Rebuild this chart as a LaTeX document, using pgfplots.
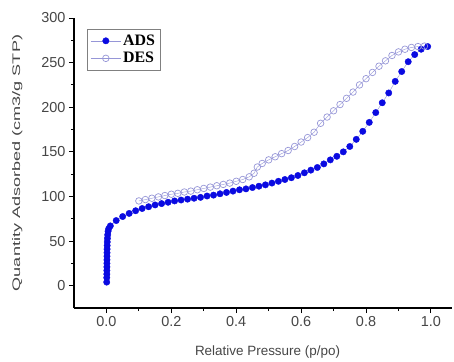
\documentclass[border=0pt]{standalone}
\usepackage{fontspec}
\setmainfont{Liberation Sans}
\newfontfamily\legfont{Liberation Serif}
\usepackage{graphicx}
\usepackage{pgfplots}
\pgfplotsset{compat=1.18}
\definecolor{adsblue}{RGB}{10,10,225}
\definecolor{deslav}{RGB}{150,150,215}
\definecolor{labgray}{RGB}{70,70,70}
\begin{document}
\begin{tikzpicture}
\begin{axis}[
  scale only axis=true,
  width=378bp, height=290bp,
  xmin=-0.1, xmax=1.065, ymin=-25, ymax=300,
  axis x line*=bottom, axis y line*=left,
  axis line style={line width=1.2pt},
  tick align=outside,
  major tick length=5bp, minor tick length=3bp,
  tick style={line width=1pt, black},
  xtick={0,0.2,0.4,0.6,0.8,1.0},
  ytick={0,50,100,150,200,250,300},
  minor x tick num=1, minor y tick num=1,
  xticklabel style={/pgf/number format/fixed, /pgf/number format/fixed zerofill, /pgf/number format/precision=1},
  /pgf/number format/assume math mode=true,
  ticklabel style={font=\fontsize{14.5}{16}\selectfont, text=labgray},
  xlabel={Relative Pressure (p/po)},
  ylabel={\scalebox{1.65}[1]{\fontsize{11}{13}\selectfont Quantity Adsorbed (cm3/g STP)}},
  label style={text=labgray},
  xlabel style={font=\fontsize{13.5}{15}\selectfont, at={(axis description cs:0.512,-0.152)}, anchor=center},
  ylabel style={at={(axis description cs:-0.15,0.5)}, anchor=center},
  legend style={at={(0.034,0.962)}, anchor=north west, draw=gray, line width=0.6pt,
    font=\legfont\bfseries\fontsize{16}{18}\selectfont, row sep=1.5pt, inner sep=3.5pt},
  legend cell align=left,
  legend image code/.code={\draw[mark repeat=2,mark phase=2] plot coordinates {(0bp,0bp) (15bp,0bp) (30bp,0bp)};},
]
\addplot[color=deslav, line width=0.4pt, mark=*, mark size=3.2bp, mark options={fill=adsblue, draw=adsblue}] coordinates {
(0.0008,4) (0.0010,9) (0.0012,13) (0.0013,17) (0.0014,21) (0.0015,25) (0.0016,29) (0.0017,33) (0.0018,37)
(0.0020,41) (0.0022,45) (0.0025,49) (0.0030,53) (0.0038,57) (0.0050,61) (0.0070,64) (0.012,67)
(0.03,73) (0.05,77.5) (0.07,81) (0.09,84) (0.11,86.5) (0.13,88.5) (0.15,90.5) (0.17,92) (0.19,93.5)
(0.21,95) (0.23,96) (0.25,97) (0.27,98) (0.29,99) (0.31,100.5) (0.33,101.5) (0.35,103) (0.37,104.5)
(0.39,106) (0.41,107.5) (0.43,108.5) (0.45,110) (0.47,111.5) (0.49,113) (0.51,115) (0.53,117)
(0.55,119) (0.57,121) (0.59,123.5) (0.61,126.5) (0.63,129.5) (0.65,132.5) (0.67,136.5) (0.69,141)
(0.71,145) (0.73,150) (0.75,156) (0.77,164) (0.79,173) (0.81,183) (0.83,194) (0.85,205) (0.87,216)
(0.89,229) (0.91,240) (0.93,251) (0.95,259) (0.97,265) (0.99,268)
};
\addlegendentry{ADS}
\addplot[color=deslav, line width=0.4pt, mark=o, mark size=3.3bp, mark options={draw=deslav, fill=white, line width=0.7pt}] coordinates {
(0.10,95) (0.12,96.5) (0.14,98) (0.16,99.5) (0.18,101) (0.20,102.5) (0.22,103.5) (0.24,105)
(0.26,106) (0.28,107.5) (0.30,109) (0.32,110.5) (0.34,112) (0.36,113.5) (0.38,115) (0.40,117)
(0.42,119) (0.44,122) (0.455,126) (0.465,133) (0.48,137) (0.50,141) (0.52,144.5) (0.54,148)
(0.56,151.5) (0.58,156) (0.60,161) (0.62,166) (0.64,172) (0.66,182) (0.68,189) (0.70,196)
(0.72,203) (0.74,210) (0.76,217) (0.78,225) (0.80,232) (0.82,239) (0.84,246) (0.86,252)
(0.88,258) (0.90,262) (0.92,265) (0.94,267) (0.96,268) (0.98,268.5)
};
\addlegendentry{DES}
\end{axis}
\path ([xshift=-74bp,yshift=-53bp]current axis.south west) rectangle ([xshift=2bp,yshift=18bp]current axis.north east);
\end{tikzpicture}
\end{document}
